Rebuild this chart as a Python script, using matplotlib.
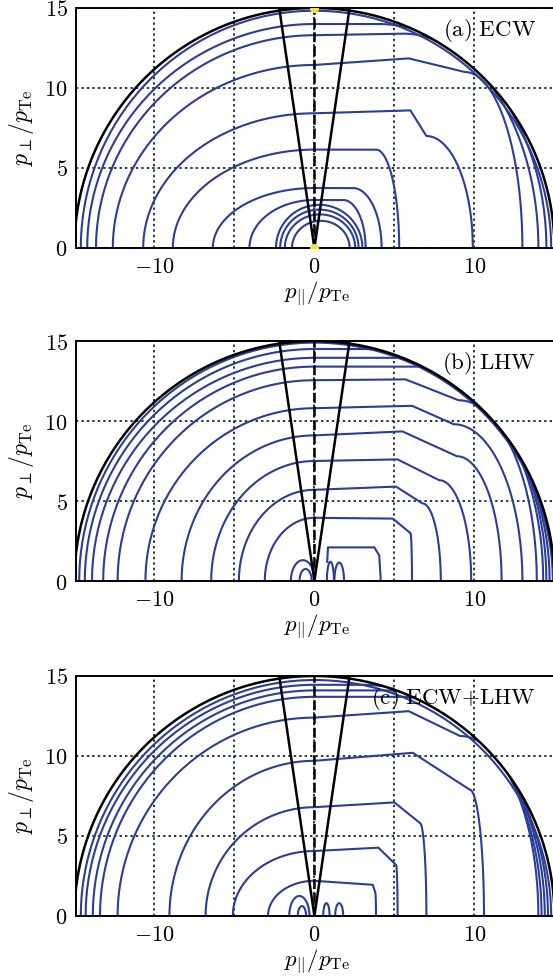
import numpy as np
import matplotlib.pyplot as plt
from matplotlib.patches import Wedge

plt.rcParams['mathtext.fontset'] = 'cm'
plt.rcParams['font.family'] = ['DejaVu Serif']

R_MAX = 15.0        # edge of the momentum grid
CONE_TOP = 2.2      # trapped/passing boundary at p_perp = R_MAX
BLUE = '#2b3d99'
GRID = '#1f3b3b'

x_ticks = [-10, -5, 0, 5, 10]
x_labels = ['$-10$', '', '$0$', '', '$10$']
y_ticks = [0, 5, 10, 15]
y_labels = ['$0$', '$5$', '$10$', '$15$']

# (a) ECW -- each contour: left crossing, height at p_par=0, right shelf height,
# end of shelf, bend point, right crossing
ecw_left = [14.6, 14.2, 13.65, 12.6, 10.7, 8.85, 6.35, 4.06]
ecw_top = [14.83, 14.0, 13.3, 11.44, 8.42, 6.15, 3.75, 3.0]
ecw_shelf = [14.83, 14.0, 13.4, 11.85, 8.6, 6.15, 3.75, 3.0]
ecw_flat = [0.0, 4.0, 5.5, 5.9, 6.0, 3.85, 2.4, 1.8]
ecw_bend_x = [0.0, 4.0, 5.5, 9.4, 7.0, 3.85, 2.4, 1.8]
ecw_bend_y = [14.83, 14.0, 13.4, 11.0, 7.0, 6.15, 3.75, 3.0]
ecw_right = [14.8, 14.5, 14.0, 13.0, 9.9, 5.3, 4.2, 3.2]
ecw_loop_cx = [0.3, 0.31, 0.35, 0.4]
ecw_loop_w = [2.7, 2.45, 2.2, 1.8]
ecw_loop_h = [2.7, 2.4, 2.1, 1.7]
ecw_dot_x = [0, 0]
ecw_dot_y = [0, 15]

# (b) LHW
lhw_left = [14.7, 14.35, 13.9, 13.2, 12.3, 10.56, 8.3, 6.45, 4.72, 3.1]
lhw_top = [14.9, 14.5, 13.95, 13.4, 12.55, 10.8, 9.1, 7.5, 5.7, 3.95]
lhw_shelf = [14.9, 14.5, 13.95, 13.4, 12.6, 10.95, 9.35, 7.6, 5.9, 3.9]
lhw_flat = [0.0, 3.0, 5.0, 6.3, 5.7, 6.1, 5.5, 5.2, 5.1, 4.9]
lhw_bend_x = [0.0, 3.0, 5.0, 6.3, 9.0, 8.7, 8.9, 7.8, 6.75, 6.0]
lhw_bend_y = [14.9, 14.5, 13.95, 13.4, 11.3, 9.8, 7.8, 6.3, 4.85, 3.0]
lhw_right = [14.9, 14.7, 14.5, 14.3, 13.9, 13.0, 11.7, 9.8, 7.9, 6.1]
lhw_inner_x = [0.8, 0.85, 3.75, 4.05, 4.15]
lhw_inner_y = [1.2, 2.1, 2.1, 1.6, 0.0]
lhw_loop_cx = [-0.72, -0.55, 1.0, 1.55]
lhw_loop_w = [0.75, 0.38, 0.22, 0.3]
lhw_loop_h = [1.3, 0.75, 1.2, 1.15]

# (c) ECW+LHW
mix_left = [14.6, 14.3, 13.85, 13.4, 12.3, 9.06, 6.8, 5.1, 2.9]
mix_top = [14.75, 14.45, 14.1, 13.7, 12.4, 9.7, 6.8, 4.06, 2.2]
mix_shelf = [14.75, 14.45, 14.1, 13.7, 12.8, 10.2, 7.1, 4.27, 1.95]
mix_flat = [0.0, 3.0, 4.5, 5.5, 5.9, 6.15, 5.0, 4.0, 3.65]
mix_bend_x = [0.0, 3.0, 4.5, 5.5, 9.1, 9.7, 6.6, 5.1, 3.8]
mix_bend_y = [14.75, 14.45, 14.1, 13.7, 11.25, 7.9, 5.8, 3.2, 1.5]
mix_right = [14.8, 14.6, 14.4, 14.2, 14.0, 10.6, 7.0, 5.2, 3.85]
mix_loop_cx = [-0.94, -0.78, 0.75, 1.55]
mix_loop_w = [0.63, 0.26, 0.2, 0.25]
mix_loop_h = [1.25, 0.62, 0.8, 0.8]


def contour_line(left, top, shelf, flat, bx, by, right, n=80):
    t = np.linspace(np.pi, np.pi / 2, n)
    xs = list(left * np.cos(t))
    ys = list(top * np.sin(t))
    xs += [flat, bx]
    ys += [shelf, by]
    t = np.linspace(np.pi / 2, 0, n)
    xs += list(bx + (right - bx) * np.cos(t))
    ys += list(by * np.sin(t))
    return xs, ys


def arch(cx, w, h, n=60):
    t = np.linspace(np.pi, 0, n)
    return cx + w * np.cos(t), h * np.sin(t)


def draw_panel(ax, tag, left, top, shelf, flat, bx, by, right,
               loop_cx, loop_w, loop_h, inner=None):
    ax.set_xlim(-14.9, 15.2)
    ax.set_ylim(0, 15)
    clip = Wedge((0, 0), R_MAX, 0, 180, transform=ax.transData)

    for k in range(len(left)):
        xs, ys = contour_line(left[k], top[k], shelf[k], flat[k], bx[k], by[k], right[k])
        ln, = ax.plot(xs, ys, color=BLUE, lw=1.5, zorder=2)
        ln.set_clip_path(clip)
    for k in range(len(loop_cx)):
        xs, ys = arch(loop_cx[k], loop_w[k], loop_h[k])
        ax.plot(xs, ys, color=BLUE, lw=1.5, zorder=2)
    if inner is not None:
        ax.plot(inner[0], inner[1], color=BLUE, lw=1.5, zorder=2)

    th = np.linspace(0, np.pi, 400)
    ax.plot(R_MAX * np.cos(th), R_MAX * np.sin(th), color='k', lw=1.8, zorder=3)
    for s in (-1, 1):
        ax.plot([0, s * CONE_TOP], [0, R_MAX], color='k', lw=1.8, zorder=3)
    ax.plot([0, 0], [0, R_MAX], color='k', lw=1.8, dashes=(4, 1.5), zorder=3)

    ax.set_xticks(x_ticks)
    ax.set_xticklabels(x_labels)
    ax.set_yticks(y_ticks)
    ax.set_yticklabels(y_labels)
    ax.tick_params(length=0, labelsize=16, pad=6)
    ax.grid(True, color=GRID, lw=1.4, linestyle=(0, (1.2, 1.6)))
    ax.set_axisbelow(True)
    for sp in ax.spines.values():
        sp.set_linewidth(1.4)
    ax.set_xlabel(r'$p_{||}/p_{\mathrm{Te}}$', fontsize=16.5, labelpad=1)
    ax.set_ylabel(r'$p_{\perp}/p_{\mathrm{Te}}$', fontsize=17, labelpad=6)
    ax.text(13.85, 13.6, tag, ha='right', va='center', fontsize=16.5, zorder=4)


fig = plt.figure(figsize=(5.53, 9.77), dpi=100)
W, H = 553.0, 977.0
boxes = [(8, 248), (341, 581), (676, 916)]
axes = []
for top_px, bot_px in boxes:
    axes.append(fig.add_axes([76 / W, 1 - bot_px / H, 481.6 / W, (bot_px - top_px) / H]))

draw_panel(axes[0], r'$\mathrm{(a)\ ECW}$', ecw_left, ecw_top, ecw_shelf, ecw_flat,
           ecw_bend_x, ecw_bend_y, ecw_right, ecw_loop_cx, ecw_loop_w, ecw_loop_h)
axes[0].scatter(ecw_dot_x, ecw_dot_y, s=30, color='#f2e24a', zorder=4)

draw_panel(axes[1], r'$\mathrm{(b)\ LHW}$', lhw_left, lhw_top, lhw_shelf, lhw_flat,
           lhw_bend_x, lhw_bend_y, lhw_right, lhw_loop_cx, lhw_loop_w, lhw_loop_h,
           inner=(lhw_inner_x, lhw_inner_y))

draw_panel(axes[2], r'$\mathrm{(c)\ ECW{+}LHW}$', mix_left, mix_top, mix_shelf, mix_flat,
           mix_bend_x, mix_bend_y, mix_right, mix_loop_cx, mix_loop_w, mix_loop_h)

fig.savefig('out.png', dpi=100)
